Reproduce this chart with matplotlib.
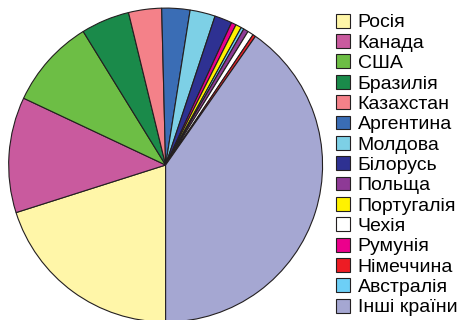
import matplotlib.pyplot as plt
from matplotlib.patches import Patch

plt.rcParams['font.family'] = ['Liberation Sans', 'DejaVu Sans']

# countries as listed in the legend, with share in percent
countries = ['Росія', 'Канада', 'США', 'Бразилія', 'Казахстан', 'Аргентина',
             'Молдова', 'Білорусь', 'Польща', 'Португалія', 'Чехія', 'Румунія',
             'Німеччина', 'Австралія', 'Інші країни']
shares = [20.1, 11.9, 9.2, 5.0, 3.4, 2.9, 2.6, 1.8, 0.5, 0.6, 0.6, 0.5,
          0.3, 0.3, 40.3]
colors = ['#FFF6A8', '#C95A9E', '#6DBE45', '#1A8A4A', '#F48189', '#3A6DB5',
          '#7DD0E6', '#2E3192', '#8E3A96', '#FFF200', '#FFFFFF', '#EC008C',
          '#ED1C24', '#6DCFF6', '#A5A7D2']
# order in which the slices go round the pie
pie_order = ['Росія', 'Канада', 'США', 'Бразилія', 'Казахстан', 'Аргентина',
             'Молдова', 'Білорусь', 'Румунія', 'Португалія', 'Австралія',
             'Польща', 'Чехія', 'Німеччина', 'Інші країни']

idx = [countries.index(c) for c in pie_order]

fig = plt.figure(figsize=(4.72, 3.2), dpi=100)
ax = fig.add_axes([0.0184, -0.00625, 0.665, 0.981])
ax.pie([shares[i] for i in idx], colors=[colors[i] for i in idx],
       startangle=270, counterclock=False, radius=1,
       wedgeprops=dict(edgecolor='#231F20', linewidth=0.8))
ax.set_xlim(-1, 1)
ax.set_ylim(-1, 1)
for p in ax.patches:
    p.set_clip_on(False)

handles = [Patch(facecolor=c, edgecolor='#231F20', linewidth=0.8) for c in colors]
fig.legend(handles, countries, loc='upper left', bbox_to_anchor=(0.712, 0.957),
           frameon=False, fontsize=14, handlelength=0.72, handleheight=0.72,
           handletextpad=0.4, labelspacing=0.135, borderaxespad=0, borderpad=0)

fig.savefig('out.png', dpi=100)
